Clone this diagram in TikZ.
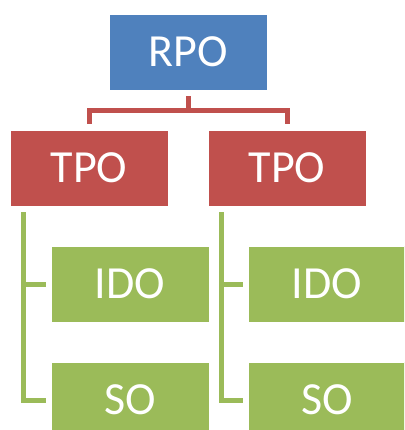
\documentclass[tikz,border=0pt]{standalone}
\usepackage{fontspec}
\setmainfont{Carlito}
\usepackage{tikz}
\usetikzlibrary{positioning}
\definecolor{rpoBody}{HTML}{4F81BD}
\definecolor{tpoBody}{HTML}{C0504D}
\definecolor{objBody}{HTML}{9BBB59}
\tikzstyle{box} = [rectangle, minimum width=158pt, minimum height=76pt, inner sep=0pt,
        text=white, font={\fontsize{46}{50}\selectfont}, draw=white, line width=0.6pt]
\tikzstyle{rpo} = [box, fill=rpoBody]
\tikzstyle{tpo} = [box, fill=tpoBody]
\tikzstyle{obj} = [box, fill=objBody]
\tikzstyle{redLink} = [draw=tpoBody, line width=5pt, shorten <=6pt, shorten >=6pt]
\tikzstyle{greenLink} = [draw=objBody, line width=5pt, shorten <=6pt, shorten >=5pt]

\begin{document}
\begin{tikzpicture}[x=1pt, y=1pt]
                \useasboundingbox (0,0) rectangle (404,-430);
                \clip (0,0) rectangle (404,-430);
                \draw
                    (188,-52)
                    node [rpo] (rpo) {RPO}
                    +(-99,-116)
                    node [tpo] (tpoL) {TPO}
                    +(99,-116)
                    node [tpo] (tpoR) {TPO};
                \draw
                    (tpoL.center)
                    +(41,-116)
                    node [obj] (idoL) {IDO}
                    +(41,-232)
                    node [obj] (soL) {SO};
                \draw
                    (tpoR.center)
                    +(40,-116)
                    node [obj] (idoR) {IDO}
                    +(40,-232)
                    node [obj] (soR) {SO};
                \draw[redLink] (rpo.south) -- ++(0,-20) -| (tpoL.north);
                \draw[redLink] (rpo.south) -- ++(0,-20) -| (tpoR.north);
                \draw[greenLink] ([xshift=14pt]tpoL.south west) |- (idoL.west);
                \draw[greenLink] ([xshift=14pt]tpoL.south west) |- (soL.west);
                \draw[greenLink] ([xshift=14pt]tpoR.south west) |- (idoR.west);
                \draw[greenLink] ([xshift=14pt]tpoR.south west) |- (soR.west);
            \end{tikzpicture}
\end{document}
